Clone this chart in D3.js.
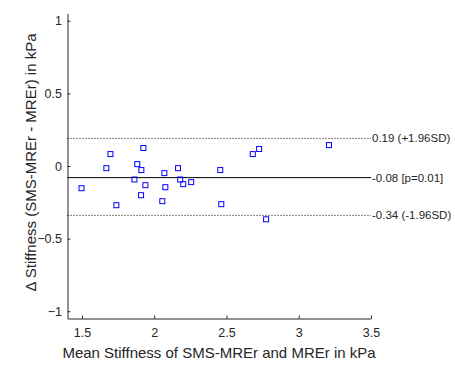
<!DOCTYPE html>
<html>
<head>
<meta charset="utf-8">
<script src="https://cdn.jsdelivr.net/npm/d3@7"></script>
<style>
  body { margin: 0; background: #fff; }
  text { font-family: "Liberation Sans", Arial, sans-serif; fill: #262626; }
</style>
</head>
<body>
<svg id="chart" width="455" height="370"></svg>
<script>
// mean stiffness (x) and difference (y) per subject
let meanVals = [1.497, 1.669, 1.697, 1.738, 1.863, 1.883, 1.909, 1.911, 1.925, 1.939,
                2.056, 2.070, 2.077, 2.165, 2.180, 2.201, 2.256, 2.457, 2.464, 2.682,
                2.726, 2.774, 3.209];
let diffVals = [-0.153, -0.015, 0.082, -0.270, -0.093, 0.013, -0.201, -0.028, 0.124, -0.132,
                -0.242, -0.049, -0.146, -0.015, -0.093, -0.125, -0.111, -0.028, -0.263, 0.082,
                0.117, -0.367, 0.144];
let refLines = [
  {value: 0.19, label: "0.19 (+1.96SD)", dotted: true},
  {value: -0.08, label: "-0.08 [p=0.01]", dotted: false},
  {value: -0.34, label: "-0.34 (-1.96SD)", dotted: true}
];
let xTicks = [1.5, 2, 2.5, 3, 3.5],
    yTicks = [-1, -0.5, 0, 0.5, 1];

let svg = d3.select("#chart"),
    margins = {left: 67.5, right: 84, top: 13.5, bottom: 51.5},
    width = 455, height = 370;

let x = d3.scaleLinear().domain([1.4, 3.5]).range([margins.left, width - margins.right]),
    y = d3.scaleLinear().domain([-1.05, 1.05]).range([height - margins.bottom, margins.top]);

let xAxis = svg.append("g")
  .attr("transform", `translate(0, ${height - margins.bottom})`)
  .call(d3.axisBottom(x).tickValues(xTicks).tickSize(-3).tickPadding(10).tickSizeOuter(0)
        .tickFormat(d3.format("")));
let yAxis = svg.append("g")
  .attr("transform", `translate(${margins.left}, 0)`)
  .call(d3.axisLeft(y).tickValues(yTicks).tickSize(-3).tickPadding(5.5).tickSizeOuter(0)
        .tickFormat(d3.format("")));

[xAxis, yAxis].forEach(a => {
  a.select(".domain").attr("stroke", "#262626");
  a.selectAll(".tick line").attr("stroke", "#262626");
  a.selectAll(".tick text").attr("font-size", 12.5).attr("fill", "#262626")
    .attr("font-family", "'Liberation Sans', Arial, sans-serif");
});

// reference lines
let lines = svg.append("g");
lines.selectAll("line").data(refLines).enter().append("line")
  .attr("x1", x(1.4)).attr("x2", x(3.5))
  .attr("y1", d => y(d.value)).attr("y2", d => y(d.value))
  .attr("stroke", "#000").attr("stroke-width", 1)
  .attr("stroke-dasharray", d => d.dotted ? "1,2" : null);
lines.selectAll("text").data(refLines).enter().append("text")
  .attr("x", x(3.5) + 1).attr("y", d => y(d.value) + 4)
  .attr("font-size", 11.5).text(d => d.label);

// points
svg.append("g").selectAll("rect")
  .data(meanVals.map((m, i) => ({m: m, d: diffVals[i]}))).enter()
  .append("rect")
  .attr("x", d => x(d.m) - 2.5).attr("y", d => y(d.d) - 2.5)
  .attr("width", 5).attr("height", 5)
  .attr("fill", "none").attr("stroke", "#0000ff").attr("stroke-width", 1);

// axis titles
svg.append("text")
  .attr("x", 219).attr("y", 358).attr("text-anchor", "middle")
  .attr("font-size", 15).text("Mean Stiffness of SMS-MREr and MREr in kPa");
svg.append("text")
  .attr("transform", `translate(35.5, 162.5) rotate(-90)`).attr("text-anchor", "middle")
  .attr("font-size", 15).text("\u0394 Stiffness (SMS-MREr - MREr) in kPa");
</script>
</body>
</html>
